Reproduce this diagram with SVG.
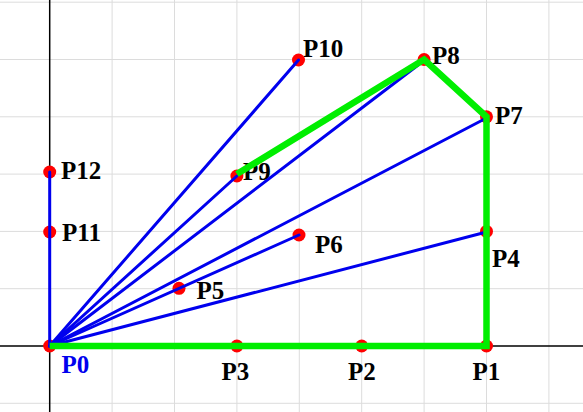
<svg xmlns="http://www.w3.org/2000/svg" width="583" height="412" viewBox="0 0 583 412">
<style>
.grid{stroke:#dcdcdc;stroke-width:1;fill:none}
.axis{stroke:#000;stroke-width:1.5;fill:none}
.seg{stroke:#0000ee;stroke-width:3;fill:none;stroke-linecap:round}
.hull{stroke:#00ee00;stroke-width:6.5;fill:none;stroke-linejoin:miter;stroke-linecap:butt}
.dot{fill:#ff0000}
.lbl{font-family:"Liberation Serif","Times New Roman",serif;font-weight:bold;font-size:25px;fill:#000}
.lbl0{fill:#0000ee}
</style>
<rect width="583" height="412" fill="#fff"/>
<g id="grid" class="grid">
<line x1="112.1" y1="0" x2="112.1" y2="412"/>
<line x1="174.5" y1="0" x2="174.5" y2="412"/>
<line x1="236.9" y1="0" x2="236.9" y2="412"/>
<line x1="299.3" y1="0" x2="299.3" y2="412"/>
<line x1="361.7" y1="0" x2="361.7" y2="412"/>
<line x1="424.1" y1="0" x2="424.1" y2="412"/>
<line x1="486.5" y1="0" x2="486.5" y2="412"/>
<line x1="548.9" y1="0" x2="548.9" y2="412"/>
<line x1="0" y1="2.2" x2="583" y2="2.2"/>
<line x1="0" y1="59.5" x2="583" y2="59.5"/>
<line x1="0" y1="116.8" x2="583" y2="116.8"/>
<line x1="0" y1="174.1" x2="583" y2="174.1"/>
<line x1="0" y1="231.4" x2="583" y2="231.4"/>
<line x1="0" y1="288.7" x2="583" y2="288.7"/>
<line x1="0" y1="403.3" x2="583" y2="403.3"/>
</g>
<g id="axes" class="axis">
<line x1="49.7" y1="0" x2="49.7" y2="412"/>
<line x1="0" y1="346" x2="583" y2="346"/>
</g>
<g id="labels" class="lbl">
<text x="303" y="57">P10</text>
<text x="432" y="63.5">P8</text>
<text x="495" y="124">P7</text>
<text x="61" y="178.5">P12</text>
<text x="243" y="180">P9</text>
<text x="62" y="240.5">P11</text>
<text x="315" y="253">P6</text>
<text x="492" y="267">P4</text>
<text x="196.5" y="299">P5</text>
<text class="lbl0" x="61.5" y="373">P0</text>
<text x="221.5" y="379.5">P3</text>
<text x="348" y="379.5">P2</text>
<text x="472.5" y="379.5">P1</text>
</g>
<g id="points" class="dot">
<g id="P0"><circle cx="49.7" cy="346" r="6.5"/></g>
<g id="P1"><circle cx="486.5" cy="346" r="6.5"/></g>
<g id="P2"><circle cx="361.7" cy="346" r="6.5"/></g>
<g id="P3"><circle cx="236.9" cy="346" r="6.5"/></g>
<g id="P4"><circle cx="486.5" cy="231.4" r="6.5"/></g>
<g id="P5"><circle cx="179" cy="288.3" r="6.5"/></g>
<g id="P6"><circle cx="299" cy="235" r="6.5"/></g>
<g id="P7"><circle cx="486.5" cy="116.8" r="6.5"/></g>
<g id="P8"><circle cx="424.1" cy="59.5" r="6.5"/></g>
<g id="P9"><circle cx="236.9" cy="176" r="6.5"/></g>
<g id="P10"><circle cx="298.5" cy="60" r="6.5"/></g>
<g id="P11"><circle cx="49.7" cy="232" r="6.5"/></g>
<g id="P12"><circle cx="49.7" cy="172" r="6.5"/></g>
</g>
<g id="connectors">
<g class="seg">
<line x1="49.7" y1="346" x2="298.5" y2="60"/>
<line x1="49.7" y1="346" x2="236.9" y2="176"/>
<line x1="49.7" y1="346" x2="424.1" y2="60.5"/>
<line x1="49.7" y1="346" x2="486.5" y2="118"/>
<line x1="49.7" y1="346" x2="299" y2="235"/>
<line x1="49.7" y1="346" x2="486.5" y2="232"/>
<line x1="49.7" y1="346" x2="49.7" y2="172"/>
</g>
<polyline class="hull" points="49.7,346 486.5,346 486.5,116.8 424.1,59.5 236.9,174.1"/>
</g>
</svg>
